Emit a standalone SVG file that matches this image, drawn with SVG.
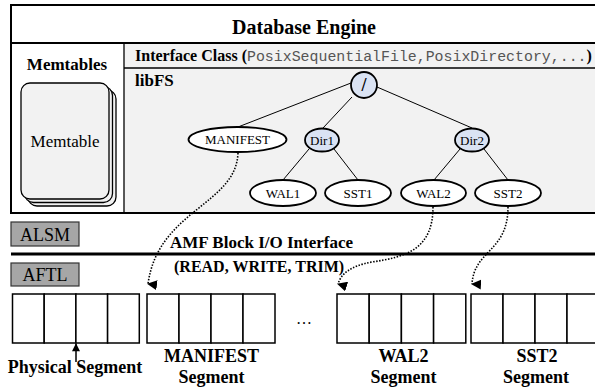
<svg xmlns="http://www.w3.org/2000/svg" width="595" height="390" viewBox="0 0 595 390">
  <style>
    .serif { font-family: "Liberation Serif", "Times New Roman", serif; fill: #000; }
    .b { font-weight: bold; }
    .mono { font-family: "Liberation Mono", "Courier New", monospace; fill: #555; }
    .frame { fill: none; stroke: #000; stroke-width: 2; }
    .thin { stroke: #000; stroke-width: 1.3; fill: none; }
    .panel { fill: #f2f2f2; }
    .card { fill: #f2f2f2; stroke: #000; stroke-width: 1.3; }
    .file { fill: #fff; stroke: #000; stroke-width: 1.8; }
    .dir { fill: #dae3f3; stroke: #000; stroke-width: 1.8; }
    .edge { stroke: #000; stroke-width: 1; }
    .tag { fill: #a6a6a6; stroke: #333; stroke-width: 1.2; }
    .cell { fill: #fff; stroke: #000; stroke-width: 1.5; }
    .link { fill: none; stroke: #000; stroke-width: 1.6; stroke-dasharray: 1.5 1.5; }
    .lbl { font-size: 13px; text-anchor: middle; }
  </style>
  <defs>
    <marker id="tri" viewBox="0 0 10 10" refX="5" refY="9" markerWidth="10" markerHeight="10" markerUnits="userSpaceOnUse" orient="auto-start-reverse">
      <path d="M0,0 L10,0 L5,10 Z" fill="#000"/>
    </marker>
    <marker id="up" viewBox="0 0 10 10" refX="5" refY="1" markerWidth="8" markerHeight="9" markerUnits="userSpaceOnUse" orient="0">
      <path d="M0,10 L5,0 L10,10 Z" fill="#000"/>
    </marker>
  </defs>

  <!-- Database engine frame -->
  <g id="engine">
    <rect x="124" y="43" width="472" height="170" class="panel"/>
    <rect x="11" y="5" width="585" height="208" class="frame"/>
    <line x1="11" y1="43" x2="596" y2="43" stroke="#000" stroke-width="2"/>
    <line x1="124" y1="43" x2="124" y2="213" class="thin"/>
    <line x1="124" y1="68" x2="596" y2="68" class="thin"/>
    <text x="304" y="34" class="serif b" font-size="20" text-anchor="middle">Database Engine</text>
  </g>

  <!-- Memtables column -->
  <g id="memtables">
    <text x="67" y="70" class="serif b" font-size="17" text-anchor="middle">Memtables</text>
    <rect x="28" y="90" width="88" height="116" rx="9" class="card"/>
    <rect x="24.5" y="86.5" width="88" height="116" rx="9" class="card"/>
    <rect x="21" y="83" width="88" height="116" rx="9" class="card"/>
    <text x="65" y="147" class="serif" font-size="17" text-anchor="middle">Memtable</text>
  </g>

  <!-- Interface row -->
  <g id="interface">
    <text x="135" y="61" class="serif b" font-size="16">Interface Class (<tspan class="mono" font-weight="normal" font-size="14.9">PosixSequentialFile,PosixDirectory,...</tspan><tspan class="serif">)</tspan></text>
  </g>

  <!-- libFS tree -->
  <g id="libfs">
    <text x="135" y="86" class="serif b" font-size="17">libFS</text>
  </g>

  <g id="tree-edges">
    <line x1="351" y1="83" x2="238" y2="127" class="edge"/>
    <line x1="352" y1="97" x2="323" y2="128" class="edge"/>
    <line x1="377" y1="87" x2="472" y2="128" class="edge"/>
    <line x1="309" y1="149" x2="283" y2="180" class="edge"/>
    <line x1="334" y1="149" x2="358" y2="180" class="edge"/>
    <line x1="460" y1="149" x2="434" y2="180" class="edge"/>
    <line x1="484" y1="149" x2="508" y2="180" class="edge"/>
  </g>

  <g id="root">
    <ellipse cx="364" cy="85" rx="13" ry="13" class="dir"/>
    <text x="364" y="91" class="serif b" font-size="18" text-anchor="middle">/</text>
  </g>
  <g id="manifest">
    <ellipse cx="237.5" cy="139.5" rx="49" ry="12.5" class="file"/>
    <text x="237.5" y="144" class="serif lbl">MANIFEST</text>
  </g>
  <g id="dir1">
    <ellipse cx="322" cy="140" rx="17" ry="11.5" class="dir"/>
    <text x="322" y="144.5" class="serif lbl">Dir1</text>
  </g>
  <g id="dir2">
    <ellipse cx="472" cy="140" rx="17" ry="11.5" class="dir"/>
    <text x="472" y="144.5" class="serif lbl">Dir2</text>
  </g>
  <g id="wal1">
    <ellipse cx="283" cy="193" rx="33" ry="13" class="file"/>
    <text x="283" y="197.5" class="serif lbl">WAL1</text>
  </g>
  <g id="sst1">
    <ellipse cx="358" cy="193" rx="33" ry="13" class="file"/>
    <text x="358" y="197.5" class="serif lbl">SST1</text>
  </g>
  <g id="wal2">
    <ellipse cx="433.5" cy="193" rx="32.5" ry="13" class="file"/>
    <text x="433.5" y="197.5" class="serif lbl">WAL2</text>
  </g>
  <g id="sst2">
    <ellipse cx="508" cy="193" rx="33" ry="13" class="file"/>
    <text x="508" y="197.5" class="serif lbl">SST2</text>
  </g>

  <!-- Layer tags and block I/O interface -->
  <g id="alsm">
    <rect x="11" y="222" width="68" height="24" class="tag"/>
    <text x="45" y="241" class="serif" font-size="18" text-anchor="middle">ALSM</text>
  </g>
  <g id="amf">
    <line x1="11" y1="254" x2="596" y2="254" stroke="#000" stroke-width="3"/>
    <text x="170" y="248" class="serif b" font-size="17">AMF Block I/O Interface</text>
    <text x="174" y="272" class="serif b" font-size="16">(READ, WRITE, TRIM)</text>
  </g>
  <g id="aftl">
    <rect x="11" y="263" width="68" height="23" class="tag"/>
    <text x="45" y="281" class="serif" font-size="18" text-anchor="middle">AFTL</text>
  </g>

  <!-- Physical segments -->
  <g id="seg-physical">
    <rect x="12.5" y="294" width="31.7" height="49" class="cell"/>
    <rect x="44.2" y="294" width="31.7" height="49" class="cell"/>
    <rect x="75.9" y="294" width="31.7" height="49" class="cell"/>
    <rect x="107.6" y="294" width="31.7" height="49" class="cell"/>
    <line x1="76" y1="362" x2="76" y2="344" stroke="#000" stroke-width="1.5" marker-end="url(#up)"/>
    <text x="75" y="373" class="serif b" font-size="18" text-anchor="middle">Physical Segment</text>
  </g>
  <g id="seg-manifest">
    <rect x="147" y="294" width="32" height="49" class="cell"/>
    <rect x="179" y="294" width="32" height="49" class="cell"/>
    <rect x="211" y="294" width="32" height="49" class="cell"/>
    <rect x="243" y="294" width="32" height="49" class="cell"/>
    <text x="211.5" y="362" class="serif b" font-size="18" text-anchor="middle">MANIFEST</text>
    <text x="211.5" y="383" class="serif b" font-size="18" text-anchor="middle">Segment</text>
  </g>
  <g id="ellipsis">
    <text x="304" y="324" class="serif" font-size="16" text-anchor="middle">…</text>
  </g>
  <g id="seg-wal2">
    <rect x="337" y="294" width="32.2" height="49" class="cell"/>
    <rect x="369.2" y="294" width="32.2" height="49" class="cell"/>
    <rect x="401.4" y="294" width="32.2" height="49" class="cell"/>
    <rect x="433.6" y="294" width="32.2" height="49" class="cell"/>
    <text x="403.5" y="362" class="serif b" font-size="18" text-anchor="middle">WAL2</text>
    <text x="403.5" y="383" class="serif b" font-size="18" text-anchor="middle">Segment</text>
  </g>
  <g id="seg-sst2">
    <rect x="471" y="294" width="32" height="49" class="cell"/>
    <rect x="503" y="294" width="32" height="49" class="cell"/>
    <rect x="535" y="294" width="32" height="49" class="cell"/>
    <rect x="567" y="294" width="32" height="49" class="cell"/>
    <text x="537" y="362" class="serif b" font-size="18" text-anchor="middle">SST2</text>
    <text x="536" y="383" class="serif b" font-size="18" text-anchor="middle">Segment</text>
  </g>

  <!-- File-to-segment mappings -->
  <g id="connectors">
    <path d="M238,153 C236,205 158,210 148,284" class="link" marker-end="url(#tri)"/>
    <path d="M433,207 C433,250 405,257 372,262 C350,266 341,274 338,284" class="link" marker-end="url(#tri)"/>
    <path d="M508,207 C508,252 474,250 472,284" class="link" marker-end="url(#tri)"/>
  </g>
</svg>
